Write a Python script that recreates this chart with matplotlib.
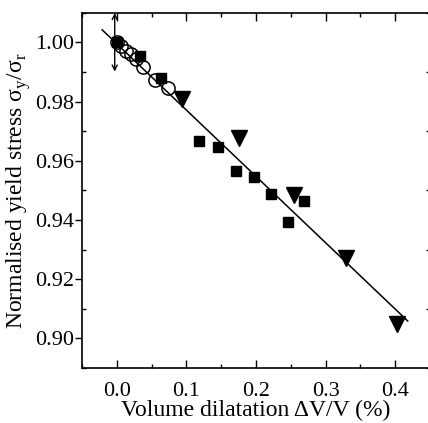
import matplotlib
matplotlib.use("Agg")
import matplotlib.pyplot as plt
from matplotlib.ticker import MultipleLocator
import numpy as np

plt.rcParams['font.family'] = ['Liberation Serif', 'DejaVu Serif']
plt.rcParams['mathtext.fontset'] = 'custom'
plt.rcParams['mathtext.rm'] = 'Liberation Serif'

# open circles (small dilatation)
circ_x = [0.0, 0.006, 0.013, 0.020, 0.028, 0.038, 0.055, 0.074]
circ_y = [1.000, 0.9986, 0.9972, 0.9959, 0.9942, 0.9918, 0.9874, 0.9844]

# filled squares
sq_x = [0.0, 0.0335, 0.064, 0.118, 0.146, 0.171, 0.197, 0.222, 0.246, 0.269]
sq_y = [1.000, 0.9953, 0.9880, 0.9666, 0.9645, 0.9565, 0.9545, 0.9487, 0.9393, 0.9463]

# filled down triangles
tri_x = [0.094, 0.176, 0.255, 0.330, 0.403]
tri_y = [0.9810, 0.9676, 0.9484, 0.9272, 0.9049]

# linear fit
fit_intercept = 0.9995
fit_slope = -0.224
fit_range = [-0.021, 0.418]

# error arrow at origin
err_x = -0.003
err_lo, err_hi = 0.9901, 1.0099

fig = plt.figure(figsize=(4.28, 4.23), dpi=100)
ax = fig.add_axes([0.1916, 0.130, 0.8131, 0.840])

xf = np.array(fit_range)
ax.plot(xf, fit_intercept + fit_slope * xf, color='black', lw=1.1, zorder=2)

ax.plot(sq_x, sq_y, 's', color='black', ms=7, zorder=3)
ax.plot(tri_x, tri_y, 'v', color='black', ms=11, zorder=3)
ax.plot(circ_x, circ_y, 'o', mfc='none', mec='black', mew=1.1, ms=9.5, zorder=4)

ax.annotate('', xy=(err_x, err_hi), xytext=(err_x, err_lo),
            arrowprops=dict(arrowstyle='<->', color='black', lw=1.0,
                            shrinkA=0, shrinkB=0, mutation_scale=9))

ax.set_xlim(-0.05, 0.45)
ax.set_ylim(0.89, 1.01)
ax.xaxis.set_major_locator(MultipleLocator(0.1))
ax.xaxis.set_minor_locator(MultipleLocator(0.05))
ax.yaxis.set_major_locator(MultipleLocator(0.02))
ax.yaxis.set_minor_locator(MultipleLocator(0.01))
ax.xaxis.set_major_formatter(matplotlib.ticker.FormatStrFormatter('%.1f'))
ax.yaxis.set_major_formatter(matplotlib.ticker.FormatStrFormatter('%.2f'))

ax.tick_params(axis='x', which='both', direction='in', top=True, labelsize=16, pad=10)
ax.tick_params(axis='x', which='major', length=6, width=1.0)
ax.tick_params(axis='x', which='minor', length=3, width=1.0)
ax.tick_params(axis='y', which='major', direction='out', length=5, width=1.0, labelsize=16, pad=1)
ax.tick_params(axis='y', which='minor', direction='in', length=3, width=1.0)
ax.tick_params(axis='y', which='both', right=True)

for s in ax.spines.values():
    s.set_linewidth(1.2)

ax.set_xlabel('Volume dilatation ΔV/V (%)', fontsize=17, labelpad=-1)
ax.set_ylabel(r'Normalised yield stress σ$_\mathrm{y}$/σ$_\mathrm{r}$', fontsize=17, labelpad=1)

fig.savefig('out.png', dpi=100)
